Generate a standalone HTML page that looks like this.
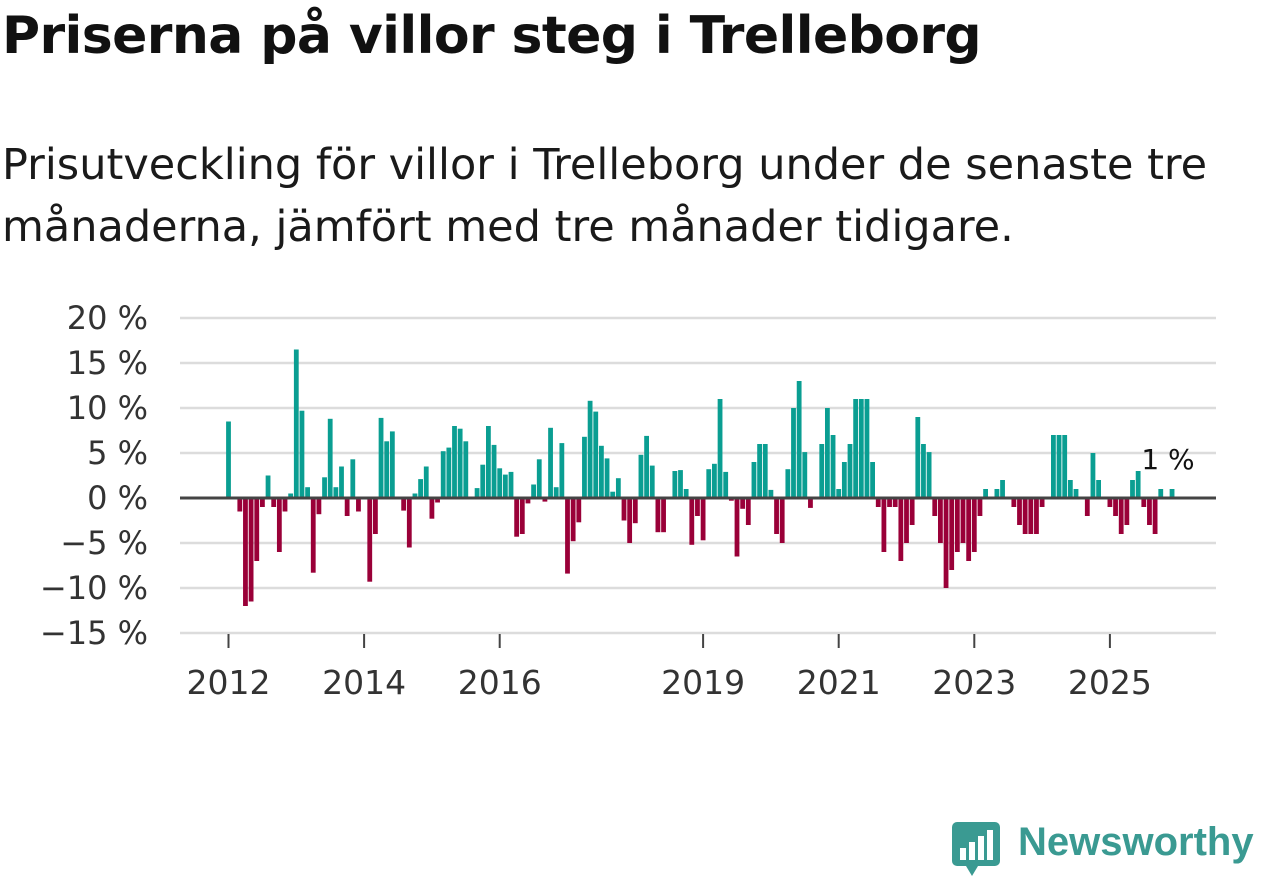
<!DOCTYPE html>
<html><head><meta charset="utf-8"><style>
body{margin:0;background:#fff;width:1262px;height:879px;overflow:hidden;font-family:"DejaVu Sans","Liberation Sans",sans-serif;color:#111}
h1{position:absolute;left:2px;top:6px;margin:0;font-size:52px;font-weight:bold;letter-spacing:-0.6px;white-space:nowrap}
p{position:absolute;left:2px;top:134px;margin:0;font-size:43px;line-height:62px;color:#1a1a1a;width:1250px}
svg{position:absolute;left:0;top:0}
</style></head><body>
<h1>Priserna på villor steg i Trelleborg</h1>
<p>Prisutveckling för villor i Trelleborg under de senaste tre<br>månaderna, jämfört med tre månader tidigare.</p>
<svg id="chart" width="1262" height="879"></svg>
<div style="position:absolute;left:952px;top:820px;width:310px;height:60px">
<svg width="50" height="58" style="left:0;top:0"><rect x="0" y="2" width="48" height="44" rx="5" fill="#3a9a92"/><polygon points="14,46 26,46 20,56" fill="#3a9a92"/><rect x="8" y="28" width="6" height="12" fill="#fff"/><rect x="17" y="22" width="6" height="18" fill="#fff"/><rect x="26" y="16" width="6" height="24" fill="#fff"/><rect x="35" y="10" width="6" height="30" fill="#fff"/></svg>
<span style="position:absolute;left:66px;top:0px;font-size:40px;font-weight:bold;color:#3a9a92;font-family:'Liberation Sans',sans-serif">Newsworthy</span>
</div>
<script>
const values=[8.5,0,-1.5,-12,-11.5,-7,-1,2.5,-1,-6,-1.5,0.5,16.5,9.7,1.2,-8.3,-1.8,2.3,8.8,1.2,3.5,-2,4.3,-1.5,0,-9.3,-4,8.9,6.3,7.4,0,-1.4,-5.5,0.5,2.1,3.5,-2.3,-0.5,5.2,5.6,8,7.7,6.3,0,1.1,3.7,8,5.9,3.3,2.6,2.9,-4.3,-4,-0.6,1.5,4.3,-0.4,7.8,1.2,6.1,-8.4,-4.8,-2.7,6.8,10.8,9.6,5.8,4.4,0.7,2.2,-2.5,-5,-2.8,4.8,6.9,3.6,-3.8,-3.8,0,3,3.1,1,-5.2,-2,-4.7,3.2,3.8,11,2.9,-0.3,-6.5,-1.2,-3,4,6,6,0.9,-4,-5,3.2,10,13,5.1,-1.1,0,6,10,7,1,4,6,11,11,11,4,-1,-6,-1,-1,-7,-5,-3,9,6,5.1,-2,-5,-10,-8,-6,-5,-7,-6,-2,1,0,1,2,0,-1,-3,-4,-4,-4,-1,0,7,7,7,2,1,0,-2,5,2,0,-1,-2,-4,-3,2,3,-1,-3,-4,1,0,1];
const yTicks=[20,15,10,5,0,-5,-10,-15];
const yTickLabels=["20 %","15 %","10 %","5 %","0 %","−5 %","−10 %","−15 %"];
const xYears=[2012,2014,2016,2019,2021,2023,2025];
const startYear=2012;
const ns="http://www.w3.org/2000/svg";
const svg=document.getElementById('chart');
const y=v=>498-v*9;
const xm=i=>228.5+i*(67.8/12);
const xy=yr=>228.5+(yr-startYear)*67.8;
const FF='DejaVu Sans, Liberation Sans, sans-serif';
function mk(t,a){const e=document.createElementNS(ns,t);for(const k in a)e.setAttribute(k,a[k]);svg.appendChild(e);return e;}
yTicks.forEach((t,i)=>{
 if(t!==0){const g=mk('line',{x1:180,x2:1216,y1:y(t),y2:y(t),stroke:'#dcdcdc','stroke-width':2.5});
 
 }
 const l=mk('text',{x:148,y:y(t)+11,'text-anchor':'end','font-size':32,fill:'#333','font-family':FF});
 l.textContent=yTickLabels[i];
 
 
});
values.forEach((v,i)=>{
 const r=mk('rect',{x:xm(i)-2.4,width:4.8,y:Math.min(y(v),y(0)),height:Math.abs(y(v)-y(0)),fill:v>=0?'#0a9e92':'#9a0038'});
 
 
});
const z=mk('line',{x1:180,x2:1216,y1:y(0),y2:y(0),stroke:'#444','stroke-width':3});


xYears.forEach(yr=>{
 const t=mk('line',{x1:xy(yr),x2:xy(yr),y1:634,y2:648,stroke:'#444','stroke-width':2});
 
 
 const l=mk('text',{x:xy(yr),y:694,'text-anchor':'middle','font-size':33,fill:'#333','font-family':FF});
 l.textContent=yr;
 
 
});
const lab=mk('text',{x:1168,y:469,'text-anchor':'middle','font-size':28,fill:'#111','font-family':FF});
lab.textContent='1 %';


</script>
</body></html>
